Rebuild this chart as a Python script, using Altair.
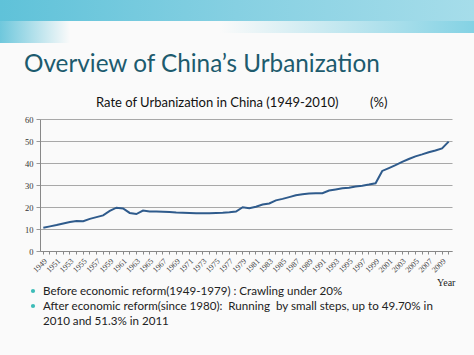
import altair as alt
import pandas as pd

years = [1949, 1950, 1951, 1952, 1953, 1954, 1955, 1956, 1957, 1958,
         1959, 1960, 1961, 1962, 1963, 1964, 1965, 1966, 1967, 1968,
         1969, 1970, 1971, 1972, 1973, 1974, 1975, 1976, 1977, 1978,
         1979, 1980, 1981, 1982, 1983, 1984, 1985, 1986, 1987, 1988,
         1989, 1990, 1991, 1992, 1993, 1994, 1995, 1996, 1997, 1998,
         1999, 2000, 2001, 2002, 2003, 2004, 2005, 2006, 2007, 2008,
         2009, 2010]
rate = [10.6, 11.2, 11.8, 12.5, 13.2, 13.6, 13.5, 14.6, 15.4, 16.2,
        18.2, 19.7, 19.3, 17.3, 16.8, 18.4, 18.0, 17.9, 17.8, 17.7,
        17.5, 17.4, 17.3, 17.2, 17.2, 17.2, 17.3, 17.4, 17.6, 17.9,
        19.9, 19.4, 20.1, 21.1, 21.6, 23.0, 23.7, 24.5, 25.3, 25.8,
        26.1, 26.3, 26.3, 27.5, 28.0, 28.5, 28.8, 29.3, 29.7, 30.2,
        30.8, 36.4, 37.7, 39.0, 40.5, 41.8, 43.0, 43.9, 44.9, 45.7,
        46.6, 49.7]
y_ticks = [0, 10, 20, 30, 40, 50, 60]

slide_title = "Overview of China\u2019s Urbanization"
chart_title = "Rate of Urbanization in China (1949-2010)"
unit_label = "(%)"
x_title = "Year"
bullets = [
    "Before economic reform(1949-1979) : Crawling under 20%",
    "After economic reform(since 1980):\u00a0 Running\u00a0 by small steps, up to 49.70% in",
]
bullet2_cont = "2010 and 51.3% in 2011"

df = pd.DataFrame({"year": years, "rate": rate})

# plot area origin is at (40, 119) on the slide
W, H = 412, 132

line = alt.Chart(df).mark_line(color="#2f5b8c", strokeWidth=2).encode(
    x=alt.X(
        "year:O",
        scale=alt.Scale(type="band", paddingInner=0, paddingOuter=0),
        bandPosition=0.5,
        axis=alt.Axis(
            title=None,
            labelExpr="datum.value % 2 == 1 ? datum.label : ''",
            labelAngle=-45,
            labelFont="Liberation Serif",
            labelFontSize=8,
            labelColor="#444444",
            labelOverlap=False,
            labelPadding=3,
            tickSize=3,
            tickColor="#888888",
            domainColor="#888888",
            grid=False,
        ),
    ),
    y=alt.Y(
        "rate:Q",
        scale=alt.Scale(domain=[0, 60], nice=False),
        axis=alt.Axis(
            title=None,
            values=y_ticks,
            labelFont="Liberation Serif",
            labelFontSize=8.5,
            labelColor="#333333",
            labelPadding=3,
            tickSize=4,
            tickColor="#999999",
            domainColor="#888888",
            gridColor="#a8a8a8",
            gridWidth=1,
        ),
    ),
)

# decorative top band of the slide
band = alt.Chart(pd.DataFrame({"k": [0]})).mark_rect(
    fill=alt.Gradient(
        gradient="linear",
        stops=[
            alt.GradientStop(color="#5fc2d9", offset=0),
            alt.GradientStop(color="#86d0e2", offset=0.5),
            alt.GradientStop(color="#a6ddea", offset=1),
        ],
        x1=0, x2=1, y1=0, y2=0,
    )
).encode(x=alt.value(-40), x2=alt.value(434), y=alt.value(-119), y2=alt.value(-98))

band2 = alt.Chart(pd.DataFrame({"k": [0]})).mark_rect(
    fill=alt.Gradient(
        gradient="linear",
        stops=[
            alt.GradientStop(color="#fafafa", offset=0),
            alt.GradientStop(color="#6fcbe0", offset=1),
        ],
        x1=0, x2=1, y1=0, y2=0,
    ), opacity=0.85
).encode(x=alt.value(180), x2=alt.value(434), y=alt.value(-98), y2=alt.value(-86))

band3 = alt.Chart(pd.DataFrame({"k": [0]})).mark_rect(
    fill=alt.Gradient(
        gradient="linear",
        stops=[
            alt.GradientStop(color="#5fc2d9", offset=0),
            alt.GradientStop(color="#fafafa", offset=1),
        ],
        x1=0, x2=1, y1=0, y2=0,
    ), opacity=0.9
).encode(x=alt.value(-40), x2=alt.value(30), y=alt.value(-98), y2=alt.value(-76))


def txt(s, x, y, size, color="#222222", font="Lato", align="left", baseline="alphabetic"):
    return alt.Chart(pd.DataFrame({"t": [s]})).mark_text(
        align=align, baseline=baseline, font=font, fontSize=size, color=color
    ).encode(text="t:N", x=alt.value(x), y=alt.value(y))


t_title = txt(slide_title, -16, -47, 24.3, color="#1d5b6e")
t_chart = txt(chart_title, 56, -12, 13, color="#111111")
t_unit = txt(unit_label, 330, -12, 13, color="#111111")
t_year = txt(x_title, 397, 167, 10, color="#222222", font="Liberation Serif")
t_b1 = txt(bullets[0], 3, 176, 11.6)
t_b2 = txt(bullets[1], 3, 191, 11.6)
t_b3 = txt(bullet2_cont, 3, 206, 11.6)

dot1 = alt.Chart(pd.DataFrame({"k": [0]})).mark_circle(color="#3dbcb8", size=18, opacity=1).encode(
    x=alt.value(-7), y=alt.value(172))
dot2 = alt.Chart(pd.DataFrame({"k": [0]})).mark_circle(color="#3dbcb8", size=18, opacity=1).encode(
    x=alt.value(-7), y=alt.value(187))

chart = alt.layer(
    band, band2, band3, line, t_title, t_chart, t_unit, t_year, t_b1, t_b2, t_b3, dot1, dot2
).properties(
    width=W,
    height=H,
    autosize=alt.AutoSizeParams(type="none"),
    padding={"left": 40, "top": 119, "right": 22, "bottom": 104},
    background="#fafafa",
).configure_view(stroke=None)

chart.save("out.html", embed_options={"renderer": "svg", "actions": False})
